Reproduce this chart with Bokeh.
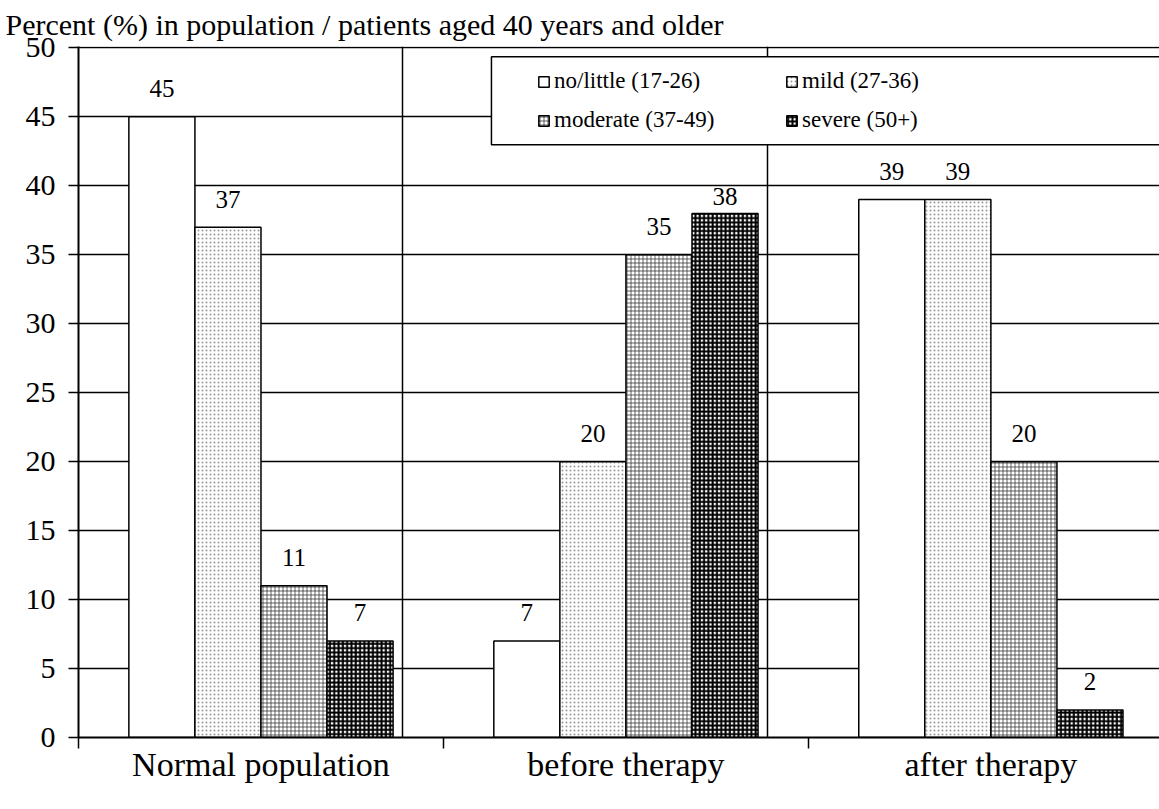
from bokeh.plotting import figure
from bokeh.models import (Range1d, FixedTicker, Legend, LegendItem, BoxAnnotation,
                          ColumnDataSource)
from bokeh.core.properties import value
from bokeh.embed import file_html
from bokeh.resources import INLINE

# ---- data ----
groups = ["Normal population", "before therapy", "after therapy"]
series = ["no/little (17-26)", "mild (27-36)", "moderate (37-49)", "severe (50+)"]
no_little = [45, 7, 39]
mild = [37, 20, 39]
moderate = [11, 35, 20]
severe = [7, 38, 2]
y_ticks = [0, 5, 10, 15, 20, 25, 30, 35, 40, 45, 50]
title_text = "Percent (%) in population / patients aged 40 years and older"

values = [no_little, mild, moderate, severe]
FONT = "'Liberation Serif', 'DejaVu Serif', serif"

p = figure(width=1159, height=801, output_backend="svg", toolbar_location=None,
           x_range=Range1d(0, 2.962), y_range=Range1d(0, 50.1),
           min_border_left=78, min_border_right=0, min_border_top=46,
           min_border_bottom=64)
p.outline_line_color = None
p.background_fill_color = "white"

p.title.text = title_text
p.title.text_font = FONT
p.title.text_font_size = "30px"
p.title.text_font_style = "normal"
p.title.text_color = "black"
p.title.align = "left"
p.title.offset = -73
p.title.standoff = 11

# hatch styles per series
styles = [
    dict(hatch_pattern=" ", hatch_color="black", hatch_weight=1, hatch_scale=4),
    dict(hatch_pattern=".", hatch_color="#9a9a9a", hatch_weight=1.2, hatch_scale=4),
    dict(hatch_pattern="+", hatch_color="#222222", hatch_weight=0.7, hatch_scale=4),
    dict(hatch_pattern="+", hatch_color="black", hatch_weight=2.0, hatch_scale=4.3),
]

bw = 0.181
renderers = []
lab_x, lab_y, lab_t, lab_off = [], [], [], []
for k, (name, vals) in enumerate(zip(series, values)):
    xs = [i + 0.5 + (k - 1.5) * bw for i in range(len(groups))]
    src = ColumnDataSource(dict(x=xs, top=vals))
    r = p.vbar(x="x", top="top", width=bw, bottom=0, source=src,
               fill_color="white", line_color="black", line_width=1.5,
               **styles[k])
    renderers.append(r)
    for xx, vv in zip(xs, vals):
        lab_x.append(xx)
        lab_y.append(vv)
        lab_t.append(str(vv))
        lab_off.append(-17 if vv == 38 else -28)

tsrc = ColumnDataSource(dict(x=lab_x, y=lab_y, t=lab_t, off=lab_off))
p.text(x="x", y="y", text="t", y_offset="off", source=tsrc, text_align="center",
       text_baseline="alphabetic", text_font=value(FONT), text_font_size="25px",
       text_color="black")

# grids
p.ygrid.ticker = FixedTicker(ticks=y_ticks)
p.ygrid.grid_line_color = "black"
p.ygrid.grid_line_width = 1.5
p.xgrid.ticker = FixedTicker(ticks=[0.888, 1.888])
p.xgrid.grid_line_color = "black"
p.xgrid.grid_line_width = 1.5

# y axis
p.yaxis.ticker = FixedTicker(ticks=y_ticks)
p.yaxis.axis_line_width = 2
p.yaxis.axis_line_color = "black"
p.yaxis.major_tick_in = 0
p.yaxis.major_tick_out = 10
p.yaxis.major_tick_line_width = 1.5
p.yaxis.minor_tick_line_color = None
p.yaxis.major_label_text_font = FONT
p.yaxis.major_label_text_font_size = "30px"
p.yaxis.major_label_text_color = "black"
p.yaxis.major_label_standoff = 13

# x axis
p.xaxis.ticker = FixedTicker(ticks=[0.5, 1.5, 2.5], minor_ticks=[0, 1, 2, 3])
p.xaxis.major_label_overrides = {0.5: groups[0], 1.5: groups[1], 2.5: groups[2]}
p.xaxis.axis_line_width = 2
p.xaxis.axis_line_color = "black"
p.xaxis.major_tick_line_color = None
p.xaxis.major_tick_in = 0
p.xaxis.major_tick_out = 0
p.xaxis.minor_tick_in = 0
p.xaxis.minor_tick_out = 11
p.xaxis.minor_tick_line_width = 1.5
p.xaxis.minor_tick_line_color = "black"
p.xaxis.major_label_text_font = FONT
p.xaxis.major_label_text_font_size = "34px"
p.xaxis.major_label_text_color = "black"
p.xaxis.major_label_standoff = -3

# legend frame
box = BoxAnnotation(left=1.1315, right=3.5, top=49.35, bottom=42.98,
                    fill_color="white", fill_alpha=1.0, line_color="black",
                    line_alpha=1.0, line_width=1.5, level="annotation")
p.add_layout(box)

def make_legend(idx, loc):
    lg = Legend(items=[LegendItem(label=series[i], renderers=[renderers[i]]) for i in idx],
                location=loc, orientation="vertical",
                label_text_font=FONT, label_text_font_size="23px",
                label_text_color="black",
                glyph_width=13, glyph_height=13, label_standoff=4,
                spacing=13, padding=0, margin=0,
                border_line_color=None, background_fill_alpha=0)
    return lg

p.add_layout(make_legend([0, 2], (459, 604)), "center")
p.add_layout(make_legend([1, 3], (707, 604)), "center")

open("out.html", "w").write(file_html(p, INLINE))
